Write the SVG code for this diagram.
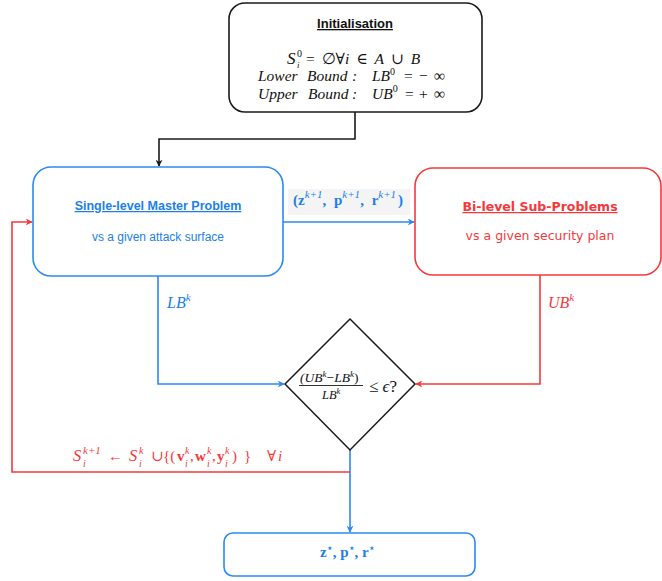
<svg xmlns="http://www.w3.org/2000/svg" width="662" height="581" viewBox="0 0 662 581">
  <style>
    .box { fill: #ffffff; stroke-width: 1.6; }
    .blk { stroke: #1a1a1a; }
    .blu { stroke: #2a8af2; }
    .red { stroke: #f5393b; }
    .ln { fill: none; stroke-width: 1.6; }
    .sans { font-family: "Liberation Sans", Arial, sans-serif; }
    .dv { font-family: "DejaVu Sans", Verdana, sans-serif; }
    .math { font-family: "Liberation Serif", "DejaVu Serif", serif; }
    .it { font-style: italic; }
    .up { font-style: normal; }
    .bf { font-weight: bold; }
    .nb { font-weight: normal; }
    .tb { fill: #1b7fe8; }
    .tr { fill: #f5393b; }
    .tk { fill: #111111; }
  </style>
  <defs>
    <marker id="ahK" viewBox="0 0 10 10" refX="9" refY="5" markerWidth="7" markerHeight="7" orient="auto" markerUnits="userSpaceOnUse">
      <path d="M0,0 L10,5 L0,10 L3,5 Z" fill="#1a1a1a"/>
    </marker>
    <marker id="ahB" viewBox="0 0 10 10" refX="9" refY="5" markerWidth="7" markerHeight="7" orient="auto" markerUnits="userSpaceOnUse">
      <path d="M0,0 L10,5 L0,10 L3,5 Z" fill="#2a8af2"/>
    </marker>
    <marker id="ahR" viewBox="0 0 10 10" refX="9" refY="5" markerWidth="7" markerHeight="7" orient="auto" markerUnits="userSpaceOnUse">
      <path d="M0,0 L10,5 L0,10 L3,5 Z" fill="#f5393b"/>
    </marker>
  </defs>

  <!-- connectors -->
  <g id="connectors">
    <path class="ln blk" d="M355,112 V139 H159 V166" marker-end="url(#ahK)"/>
    <path class="ln blu" d="M283,222 H414" marker-end="url(#ahB)"/>
    <path class="ln blu" d="M158,276 V384 H284" marker-end="url(#ahB)"/>
    <path class="ln red" d="M540,275 V384 H416" marker-end="url(#ahR)"/>
    <path class="ln blu" d="M350,450 V532" marker-end="url(#ahB)"/>
    <path class="ln red" d="M350,472 H12 V222 H32" marker-end="url(#ahR)"/>

    <!-- edge labels -->
    <rect x="288" y="189" width="122" height="26" fill="#f4f4f4"/>
    <text class="math tb bf" font-size="15" x="293" y="205" word-spacing="4">(z<tspan font-size="11" dy="-7" class="it nb">k+1</tspan><tspan dy="7">, p</tspan><tspan font-size="11" dy="-7" class="it nb">k+1</tspan><tspan dy="7">, r</tspan><tspan font-size="11" dy="-7" class="it nb">k+1</tspan><tspan dy="7" dx="2">)</tspan></text>
    <text class="math it tb" x="167" y="308" font-size="16">LB<tspan font-size="11" dy="-7">k</tspan></text>
    <text class="math it tr" x="548" y="308" font-size="16">UB<tspan font-size="11" dy="-7">k</tspan></text>
    <text class="math tr" font-size="15" y="461"><tspan x="73" class="it" font-size="16.5">S</tspan><tspan x="83" y="454" font-size="11" class="it">k+1</tspan><tspan x="83" y="467" font-size="10" class="it">i</tspan><tspan x="108" y="461">←</tspan><tspan x="129" class="it" font-size="16.5">S</tspan><tspan x="139" y="454" font-size="10" class="it">k</tspan><tspan x="139" y="467" font-size="10" class="it">i</tspan><tspan x="151" y="461">∪</tspan><tspan x="163">{(</tspan><tspan x="177" class="bf">v</tspan><tspan x="185" y="454" font-size="10" class="it">k</tspan><tspan x="185" y="467" font-size="10" class="it">i</tspan><tspan x="190" y="461">,</tspan><tspan x="195" class="bf">w</tspan><tspan x="207" y="454" font-size="10" class="it">k</tspan><tspan x="207" y="467" font-size="10" class="it">i</tspan><tspan x="212" y="461">,</tspan><tspan x="217" class="bf">y</tspan><tspan x="225" y="454" font-size="10" class="it">k</tspan><tspan x="225" y="467" font-size="10" class="it">i</tspan><tspan x="232" y="461">)</tspan><tspan x="244">}</tspan><tspan x="267">∀</tspan><tspan x="278" class="it">i</tspan></text>
  </g>

  <!-- initialisation -->
  <g id="init">
    <rect class="box blk" x="229" y="3" width="253" height="109" rx="16"/>
    <text class="sans tk" x="355" y="28" font-size="13" font-weight="bold" text-anchor="middle" text-decoration="underline">Initialisation</text>
    <text class="math tk" font-size="15.5" y="64" word-spacing="3"><tspan x="287" class="it" font-size="17">S</tspan><tspan x="297" y="57" font-size="10">0</tspan><tspan x="297" y="68" font-size="9" class="it">i</tspan><tspan x="306" y="64">= ∅∀<tspan class="it">i</tspan> ∈ <tspan class="it">A</tspan> ∪ <tspan class="it">B</tspan></tspan></text>
    <text class="math it tk" font-size="15.5" y="81"><tspan x="258">Lower</tspan><tspan x="307">Bound</tspan><tspan x="352">:</tspan><tspan x="372">LB<tspan font-size="10" dy="-6.5" class="up">0</tspan></tspan><tspan x="404" y="81" class="up">=</tspan><tspan x="419" class="up">−</tspan><tspan x="434" class="up">∞</tspan></text>
    <text class="math it tk" font-size="15.5" y="98.5"><tspan x="258">Upper</tspan><tspan x="308">Bound</tspan><tspan x="352">:</tspan><tspan x="372">UB<tspan font-size="10" dy="-6.5" class="up">0</tspan></tspan><tspan x="405" y="98.5" class="up">=</tspan><tspan x="419" class="up">+</tspan><tspan x="434" class="up">∞</tspan></text>
  </g>

  <!-- master problem -->
  <g id="master">
    <rect class="box blu" x="33" y="167" width="250" height="109" rx="18"/>
    <text class="sans tb" x="158" y="210" font-size="12.5" font-weight="bold" text-anchor="middle" text-decoration="underline">Single-level Master Problem</text>
    <text class="sans tb" x="158" y="241" font-size="12" text-anchor="middle">vs a given attack surface</text>
  </g>

  <!-- sub-problems -->
  <g id="sub">
    <rect class="box red" x="415" y="168" width="246" height="107" rx="18"/>
    <text class="dv tr" x="540" y="211" font-size="12.5" font-weight="bold" text-anchor="middle" text-decoration="underline">Bi-level Sub-Problems</text>
    <text class="dv tr" x="540" y="240" font-size="12.5" text-anchor="middle">vs a given security plan</text>
  </g>

  <!-- convergence test -->
  <g id="check">
    <path d="M350,319 L415,384 L350,450 L285,384 Z" fill="#ffffff" stroke="#1a1a1a" stroke-width="1.5"/>
    <text class="math it tk" x="300" y="382" font-size="13.5">(UB<tspan font-size="9" dy="-5">k</tspan><tspan dy="5" class="up">−</tspan>LB<tspan font-size="9" dy="-5">k</tspan><tspan dy="5" class="up">)</tspan></text>
    <line x1="299" y1="385.5" x2="363" y2="385.5" stroke="#1a1a1a" stroke-width="0.9"/>
    <text class="math it tk" x="322" y="398.5" font-size="12.5">LB<tspan font-size="8.5" dy="-5">k</tspan></text>
    <text class="math tk" x="369" y="392" font-size="17">≤ <tspan class="it">ϵ</tspan>?</text>
  </g>

  <!-- result -->
  <g id="result">
    <rect class="box blu" x="224" y="533" width="251" height="43" rx="9"/>
    <text class="math tb bf" x="320" y="557" font-size="15">z<tspan font-size="9" dy="-6">⋆</tspan><tspan dy="6">, p</tspan><tspan font-size="9" dy="-6">⋆</tspan><tspan dy="6">, r</tspan><tspan font-size="9" dy="-6">⋆</tspan></text>
  </g>
</svg>
